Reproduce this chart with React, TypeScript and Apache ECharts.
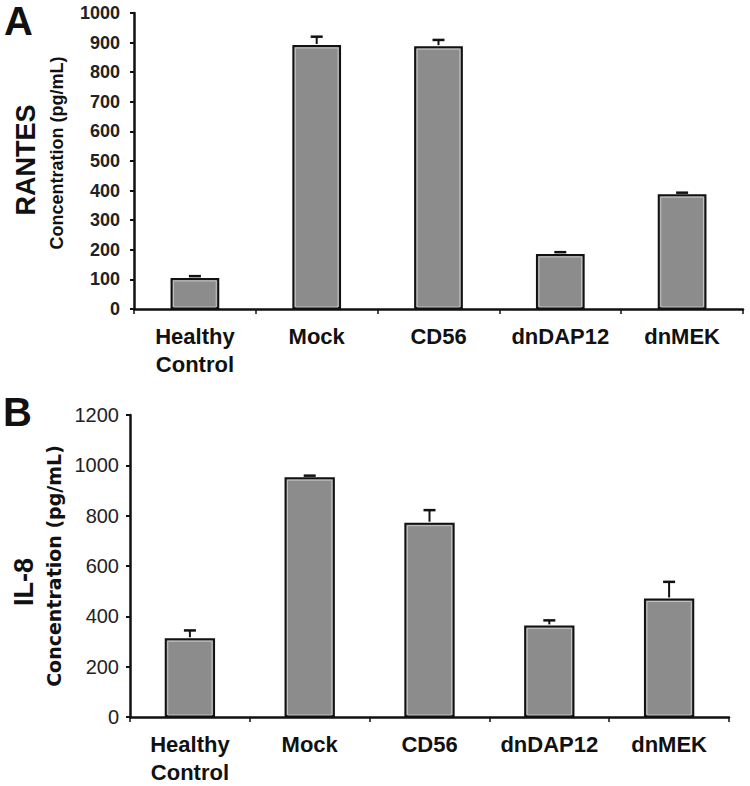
import { useEffect, useRef } from 'react';
import * as echarts from 'echarts';

const categories = ['Healthy\nControl', 'Mock', 'CD56', 'dnDAP12', 'dnMEK'];
const rantesValues = [105, 892, 888, 186, 388];
const rantesErrors = [6, 28, 21, 6, 5];
const il8Values = [313, 953, 772, 364, 471];
const il8Errors = [31, 6, 50, 20, 66];

const FONT = 'Liberation Sans, Arial, Helvetica, sans-serif';
const INK = '#111';
const BAR_FILL = '#8c8c8c';

const overlay = (ratio: number) => (params: any, api: any) => {
  const idx = api.value(0);
  const v = api.value(1);
  const e = api.value(2);
  const base = api.coord([idx, 0]);
  const top = api.coord([idx, v]);
  const errTop = api.coord([idx, v + e]);
  const bw = api.size([1, 0])[0] * ratio;
  const x0 = top[0] - bw / 2;
  return {
    type: 'group',
    children: [
      {
        type: 'rect',
        shape: { x: x0 + 3, y: top[1] + 3, width: bw - 6, height: base[1] - top[1] - 5 },
        style: { fill: 'none', stroke: '#c4c4c4', lineWidth: 1 },
      },
      {
        type: 'line',
        shape: { x1: top[0], y1: top[1] - 1, x2: top[0], y2: errTop[1] },
        style: { stroke: INK, lineWidth: 2 },
      },
      {
        type: 'line',
        shape: { x1: top[0] - 6, y1: errTop[1], x2: top[0] + 6, y2: errTop[1] },
        style: { stroke: INK, lineWidth: 2.5 },
      },
    ],
  };
};

const xAxisFor = (gridIndex: number) => ({
  type: 'category',
  gridIndex,
  data: categories,
  axisLine: { lineStyle: { color: INK, width: 2.5 } },
  axisTick: { show: true, length: 5, lineStyle: { color: INK, width: 1.5 } },
  axisLabel: {
    interval: 0,
    margin: 13,
    color: INK,
    fontFamily: FONT,
    fontWeight: 'bold',
    fontSize: 22,
    lineHeight: 28,
  },
});

const yAxisFor = (gridIndex: number, max: number, interval: number, size: number, bold: boolean, margin: number) => ({
  type: 'value',
  gridIndex,
  min: 0,
  max,
  interval,
  axisLine: { show: true, lineStyle: { color: INK, width: 2.5 } },
  axisTick: { show: true, length: 4, lineStyle: { color: INK, width: 2 } },
  splitLine: { show: false },
  axisLabel: {
    margin,
    color: '#222',
    fontFamily: FONT,
    fontSize: size,
    fontWeight: bold ? 'bold' : 'normal',
    formatter: (v: number) => String(v),
  },
});

const rotatedText = (text: string, x: number, y: number, size: number, family = FONT) => ({
  type: 'text',
  x,
  y,
  rotation: Math.PI / 2,
  style: {
    text,
    fill: INK,
    font: `bold ${size}px ${family}`,
    align: 'center',
    verticalAlign: 'middle',
  },
});

export default function App() {
  const chartRef = useRef<HTMLDivElement>(null);

  useEffect(() => {
    document.body.style.margin = '0';
    if (!chartRef.current) return;
    const chart = echarts.init(chartRef.current, null, { renderer: 'svg' });

    const option = {
      animation: false,
      backgroundColor: '#fff',
      grid: [
        { left: 134, right: 7, top: 13, height: 296 },
        { left: 130, right: 21, top: 415, height: 304 },
      ],
      xAxis: [xAxisFor(0), xAxisFor(1)],
      yAxis: [yAxisFor(0, 1000, 100, 18, true, 14), yAxisFor(1, 1200, 200, 20, false, 11)],
      graphic: [
        { type: 'text', x: 4, y: 21, style: { text: 'A', fill: INK, font: `bold 40px ${FONT}`, verticalAlign: 'middle' } },
        { type: 'text', x: 3, y: 412, style: { text: 'B', fill: INK, font: `bold 40px ${FONT}`, verticalAlign: 'middle' } },
        rotatedText('RANTES', 26, 160, 27),
        rotatedText('Concentration (pg/mL)', 57, 153, 18),
        rotatedText('IL-8', 24, 582, 27),
        rotatedText('Concentration (pg/mL)', 54, 566, 19, 'DejaVu Sans, sans-serif'),
      ],
      series: [
        {
          type: 'bar',
          xAxisIndex: 0,
          yAxisIndex: 0,
          barWidth: '40%',
          data: rantesValues,
          itemStyle: { color: BAR_FILL, borderColor: INK, borderWidth: 2 },
        },
        {
          type: 'custom',
          xAxisIndex: 0,
          yAxisIndex: 0,
          z: 5,
          renderItem: overlay(0.4),
          encode: { x: 0, y: 1 },
          data: categories.map((_, i) => [i, rantesValues[i], rantesErrors[i]]),
        },
        {
          type: 'bar',
          xAxisIndex: 1,
          yAxisIndex: 1,
          barWidth: '42%',
          data: il8Values,
          itemStyle: { color: BAR_FILL, borderColor: INK, borderWidth: 2 },
        },
        {
          type: 'custom',
          xAxisIndex: 1,
          yAxisIndex: 1,
          z: 5,
          renderItem: overlay(0.42),
          encode: { x: 0, y: 1 },
          data: categories.map((_, i) => [i, il8Values[i], il8Errors[i]]),
        },
      ],
    };

    chart.setOption(option);

    const handleResize = () => chart.resize();
    window.addEventListener('resize', handleResize);
    return () => {
      window.removeEventListener('resize', handleResize);
      chart.dispose();
    };
  }, []);

  return <div ref={chartRef} style={{ width: 750, height: 786 }} />;
}
